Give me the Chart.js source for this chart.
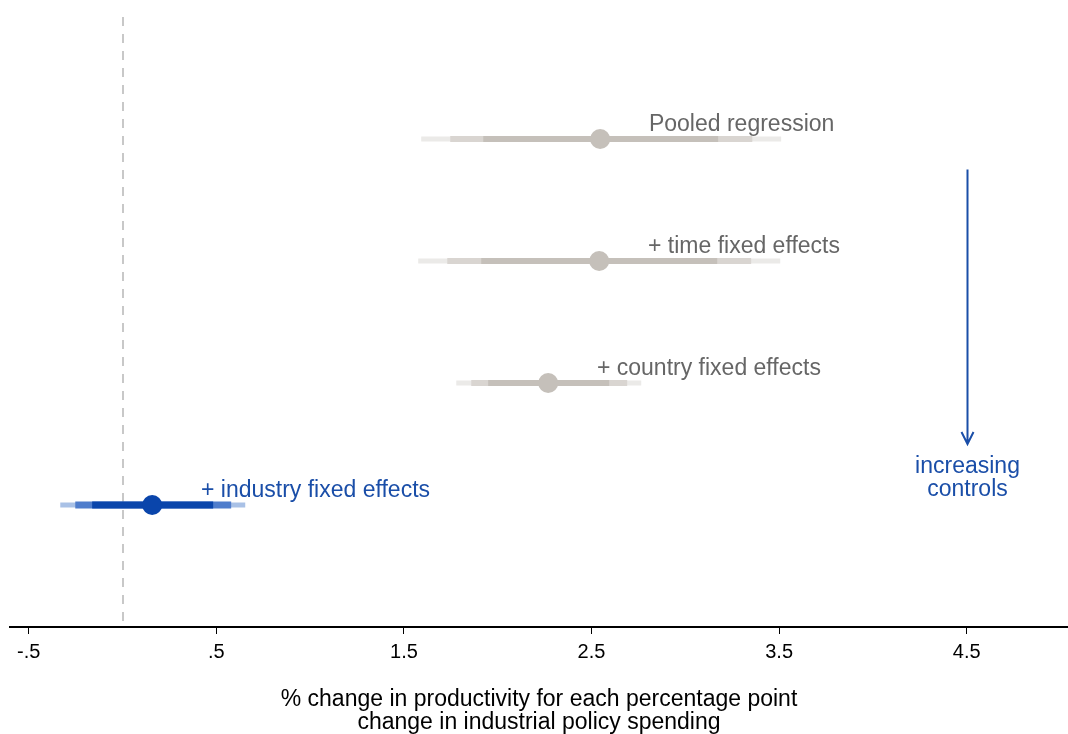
<!DOCTYPE html>
<html>
<head>
<meta charset="utf-8">
<script src="https://cdn.jsdelivr.net/npm/chart.js@4/dist/chart.umd.min.js"></script>
<style>
  html, body { margin: 0; padding: 0; background: #fff; }
  #c { display: block; }
</style>
</head>
<body>
<canvas id="c" width="1068" height="734"></canvas>
<script>
// ---- Data ----
const models = ['Pooled regression', '+ time fixed effects', '+ country fixed effects', '+ industry fixed effects'];
const rowPos = [4, 3, 2, 1];
const estimates = [2.546, 2.541, 2.269, 0.158];
const outerLo = [1.592, 1.576, 1.779, -0.332];
const outerHi = [3.511, 3.506, 2.765, 0.654];
const midLo = [1.747, 1.731, 1.859, -0.252];
const midHi = [3.357, 3.351, 2.690, 0.579];
const innerLo = [1.923, 1.912, 1.949, -0.162];
const innerHi = [3.175, 3.170, 2.594, 0.483];
const highlighted = [false, false, false, true];
const xTicks = [-0.5, 0.5, 1.5, 2.5, 3.5, 4.5];
const xTitle = ['% change in productivity for each percentage point', 'change in industrial policy spending'];
const arrowText = ['increasing', 'controls'];
const arrowX = 4.5, arrowTop = 3.75, arrowBottom = 1.5;

// ---- Styles ----
const FONT = "'Liberation Sans', Arial, sans-serif";
const grayPal = { outer: '#ebeae8', mid: '#d9d5d1', inner: '#c5c0ba', point: '#c5c0ba', text: '#666666' };
const bluePal = { outer: '#a9c1e6', mid: '#4f7dcc', inner: '#0a45ab', point: '#0a45ab', text: '#1a4ea8' };

const datasets = [];
models.forEach((m, i) => {
  const pal = highlighted[i] ? bluePal : grayPal;
  const y = rowPos[i];
  const seg = (lo, hi, color, w, ord) => ({
    type: 'line',
    order: ord,
    data: [{ x: lo, y: y }, { x: hi, y: y }],
    borderColor: color,
    borderWidth: w,
    borderCapStyle: 'butt',
    pointRadius: 0,
    pointHoverRadius: 0,
    fill: false
  });
  datasets.push(seg(outerLo[i], outerHi[i], pal.outer, 5, 3));
  datasets.push(seg(midLo[i], midHi[i], pal.mid, highlighted[i] ? 7 : 6, 2));
  datasets.push(seg(innerLo[i], innerHi[i], pal.inner, highlighted[i] ? 7 : 6, 1));
});
datasets.push({
  type: 'scatter',
  order: 0,
  data: estimates.map((e, i) => ({ x: e, y: rowPos[i] })),
  backgroundColor: estimates.map((e, i) => (highlighted[i] ? bluePal : grayPal).point),
  borderWidth: 0,
  pointRadius: 10,
  pointHoverRadius: 10
});

const decor = {
  id: 'decor',
  beforeDatasetsDraw(chart) {
    const { ctx, chartArea, scales: { x } } = chart;
    const px = Math.round(x.getPixelForValue(0));
    ctx.save();
    ctx.strokeStyle = '#c8c8c8';
    ctx.lineWidth = 2;
    ctx.setLineDash([9, 8]);
    ctx.beginPath();
    ctx.moveTo(px, chartArea.top);
    ctx.lineTo(px, chartArea.bottom);
    ctx.stroke();
    ctx.restore();
  },
  afterDatasetsDraw(chart) {
    const { ctx, scales: { x, y } } = chart;
    ctx.save();
    ctx.font = '23px ' + FONT;
    ctx.textAlign = 'left';
    ctx.textBaseline = 'middle';
    models.forEach((m, i) => {
      const pal = highlighted[i] ? bluePal : grayPal;
      ctx.fillStyle = pal.text;
      ctx.fillText(m, x.getPixelForValue(estimates[i] + 0.26), y.getPixelForValue(rowPos[i] + 0.115));
    });
    // arrow
    const ax = Math.round(x.getPixelForValue(arrowX)) + 0.5;
    const y1 = y.getPixelForValue(arrowTop);
    const y2 = y.getPixelForValue(arrowBottom);
    ctx.strokeStyle = bluePal.text;
    ctx.lineWidth = 2;
    ctx.beginPath();
    ctx.moveTo(ax, y1);
    ctx.lineTo(ax, y2);
    ctx.moveTo(ax - 6, y2 - 12);
    ctx.lineTo(ax, y2);
    ctx.lineTo(ax + 6, y2 - 12);
    ctx.stroke();
    ctx.fillStyle = bluePal.text;
    ctx.font = '23px ' + FONT;
    ctx.textAlign = 'center';
    arrowText.forEach((t, k) => ctx.fillText(t, ax, y2 + 23 + k * 23));
    ctx.restore();
  }
};

new Chart(document.getElementById('c'), {
  type: 'line',
  data: { datasets },
  options: {
    responsive: false,
    animation: false,
    devicePixelRatio: 1,
    layout: { autoPadding: false, padding: { left: 10, right: 0, top: 17, bottom: 0 } },
    plugins: { legend: { display: false }, tooltip: { enabled: false } },
    scales: {
      x: {
        type: 'linear',
        min: -0.6,
        max: 5.04,
        afterBuildTicks: (s) => { s.ticks = xTicks.map(v => ({ value: v })); },
        afterFit: (s) => { s.height = 107; s.paddingLeft = 0; s.paddingRight = 0; },
        ticks: {
          color: '#000',
          font: { family: FONT, size: 20 },
          padding: 6,
          maxRotation: 0,
          autoSkip: false,
          callback: (v) => (v < 0 ? '-' : '') + String(Math.abs(v)).replace(/^0/, '')
        },
        grid: { drawOnChartArea: false, drawTicks: true, tickLength: 7, color: '#000', lineWidth: 1 },
        border: { display: true, color: '#000', width: 2 },
        title: {
          display: true,
          text: xTitle,
          color: '#000',
          font: { family: FONT, size: 23, lineHeight: '23px' },
          padding: { top: 0, bottom: 0 }
        }
      },
      y: {
        type: 'linear',
        display: false,
        min: 0,
        max: 5
      }
    }
  },
  plugins: [decor]
});
</script>
</body>
</html>
